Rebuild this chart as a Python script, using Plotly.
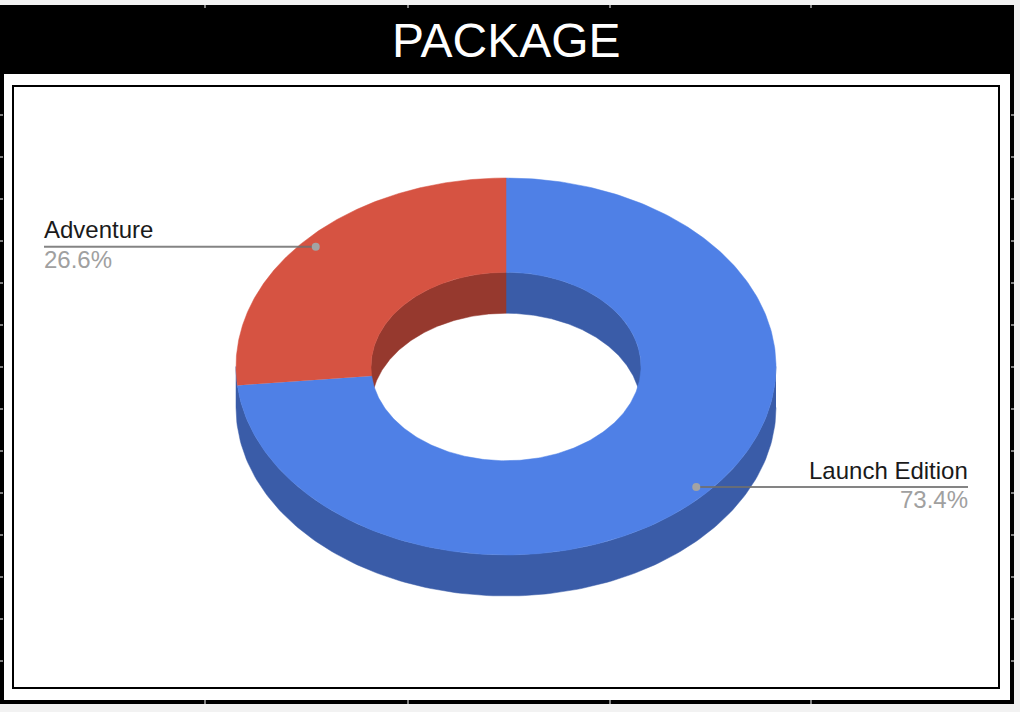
import numpy as np
import plotly.graph_objects as go

categories = ["Launch Edition", "Adventure"]
values = [73.4, 26.6]
top_colors = ["#4f80e6", "#d65342"]
side_colors = ["#3a5ca8", "#96392e"]
title_text = "PACKAGE"
left_tick_rows = [115, 157, 199, 241, 283, 325, 367, 409, 451, 493, 535, 577, 619, 661]
top_tick_cols = [205, 408, 610, 811]

W, H = 1020, 712
CX, CY = 506.0, 366.5
RX, RY = 270.0, 188.5
HOLE = 0.5
DEPTH = 41.0
GAP = 0.95
SLIVER = np.radians(10)


def pt(angle, frac=1.0, dz=0.0):
    a = np.asarray(angle)
    return CX + RX * frac * np.sin(a), CY - RY * frac * np.cos(a) + dz


def arc(a0, a1, n=160):
    return np.linspace(a0, a1, n)


def poly(x_parts, y_parts, color, name):
    return go.Scatter(
        x=np.concatenate(x_parts), y=np.concatenate(y_parts), mode="lines",
        fill="toself", fillcolor=color, line=dict(color=color, width=0.5),
        hoverinfo="skip", name=name, showlegend=False,
    )


total = sum(values)
spans = []
start = 0.0
for v in values:
    end = start + 2 * np.pi * v / total
    spans.append((start, end))
    start = end

walls, inner, tops = [], [], []
for (a0, a1), cat, tc, sc in zip(spans, categories, top_colors, side_colors):
    # outer wall: visible on the lower half of the ellipse; a sliver past the
    # silhouette edge is absorbed by the neighbouring slice
    lo, hi = max(a0, np.pi / 2), min(a1, 3 * np.pi / 2)
    if hi < 3 * np.pi / 2 and 3 * np.pi / 2 - hi < SLIVER:
        hi = 3 * np.pi / 2
    if hi - lo > SLIVER:
        t = arc(lo, hi)
        x0, y0 = pt(t)
        x1, y1 = pt(t[::-1], dz=DEPTH)
        walls.append(poly([x0, x1], [y0, y1], sc, cat))
    # inner wall: visible on the upper half of the hole
    for lo, hi in ((max(a0, 0.0), min(a1, np.pi / 2)),
                   (max(a0, 3 * np.pi / 2), min(a1, 2 * np.pi))):
        if hi > lo:
            t = arc(lo, hi)
            x0, y0 = pt(t, HOLE)
            x1, y1 = pt(t[::-1], HOLE, DEPTH)
            inner.append(poly([x0, x1], [y0, y1], sc, cat))
    # top face
    t = arc(a0, a1, 300)
    x0, y0 = pt(t)
    x1, y1 = pt(t[::-1], HOLE)
    tops.append(poly([x0, x1], [y0, y1], tc, cat))

fig = go.Figure(walls + inner + tops)

shapes = [
    dict(type="rect", x0=0, x1=1014, y0=5, y1=704, fillcolor="#000000", line_width=0, layer="below"),
    dict(type="rect", x0=4, x1=1010, y0=74, y1=700, fillcolor="#ffffff", line_width=0, layer="below"),
    dict(type="rect", x0=13, x1=999, y0=86, y1=688, fillcolor="#ffffff",
         line=dict(color="#000000", width=2), layer="below"),
]
for r in left_tick_rows:
    shapes.append(dict(type="line", x0=0, x1=3, y0=r, y1=r, line=dict(color="#ffffff", width=1), layer="below"))
    shapes.append(dict(type="line", x0=1011, x1=1014, y0=r, y1=r, line=dict(color="#ffffff", width=1), layer="below"))
for c in top_tick_cols:
    shapes.append(dict(type="line", x0=c, x1=c, y0=5, y1=8, line=dict(color="#ffffff", width=1), layer="below"))
    shapes.append(dict(type="line", x0=c, x1=c, y0=700, y1=704, line=dict(color="#ffffff", width=1), layer="below"))

annotations = [dict(x=506, y=40, text=title_text, showarrow=False, xanchor="center", yanchor="middle",
                    font=dict(family="Liberation Sans", size=48, color="#ffffff"))]

label_ends = {"Launch Edition": 968, "Adventure": 44}
for (a0, a1), cat, v in zip(spans, categories, values):
    mid = (a0 + a1) / 2
    dx, dy = pt(mid, GAP)
    lx = label_ends[cat]
    side = "left" if lx < dx else "right"
    fig.add_trace(go.Scatter(x=[dx, lx], y=[dy + 0.4, dy + 0.4], mode="lines",
                             line=dict(color="rgba(110,110,110,0.85)", width=2),
                             hoverinfo="skip", showlegend=False))
    fig.add_trace(go.Scatter(x=[dx], y=[dy + 0.4], mode="markers",
                             marker=dict(color="#a3a3a3", size=8), hoverinfo="skip", showlegend=False))
    annotations.append(dict(x=lx, y=dy - 3, text=cat, showarrow=False, xanchor=side, yanchor="bottom",
                            font=dict(family="Liberation Sans", size=24, color="#1a1a1a"),
                            borderpad=0, borderwidth=0))
    annotations.append(dict(x=lx, y=dy - 0.5, text=f"{v:.1f}%", showarrow=False, xanchor=side, yanchor="top",
                            font=dict(family="Liberation Sans", size=24, color="#a0a0a0"),
                            borderpad=0, borderwidth=0))

fig.update_layout(
    width=W, height=H, margin=dict(l=0, r=0, t=0, b=0),
    paper_bgcolor="#f2f2f2", plot_bgcolor="#f2f2f2",
    xaxis=dict(range=[0, W], visible=False, fixedrange=True),
    yaxis=dict(range=[H, 0], visible=False, fixedrange=True),
    shapes=shapes, annotations=annotations, showlegend=False,
)
fig.write_html("out.html", config={"displayModeBar": False},
               post_script="document.body.style.margin='0';document.body.style.overflow='hidden';")
